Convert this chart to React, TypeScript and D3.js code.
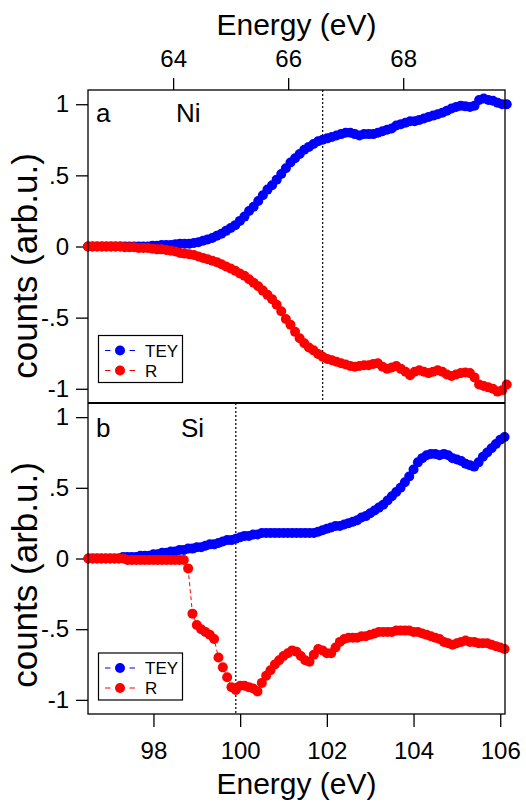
import { useEffect, useRef } from "react";
import * as d3 from "d3";

// Ni M-edge (top panel): energy grid start/step, values per point
const NI_E0 = 62.52;
const NI_STEP = 0.08;
const niTEY = [
  0, 0, 0, 0, 0, 0, 0, 0, 0, 0,
  0, 0, 0, 0, 0.005, 0.005, 0.01, 0.01, 0.01, 0.015,
  0.02, 0.02, 0.02, 0.025, 0.03, 0.04, 0.05, 0.06, 0.075, 0.09,
  0.11, 0.13, 0.15, 0.18, 0.21, 0.25, 0.28, 0.32, 0.36, 0.4,
  0.43, 0.47, 0.51, 0.55, 0.59, 0.62, 0.65, 0.68, 0.7, 0.72,
  0.74, 0.75, 0.76, 0.77, 0.78, 0.79, 0.8, 0.8, 0.79, 0.78,
  0.79, 0.79, 0.79, 0.8, 0.81, 0.82, 0.83, 0.85, 0.86, 0.87,
  0.88, 0.88, 0.89, 0.9, 0.91, 0.92, 0.93, 0.94, 0.955, 0.97,
  0.98, 0.99, 0.985, 0.98, 0.99, 1.03, 1.04, 1.03, 1.025, 1.01,
  1.0, 1.0,
];
const niR = [
  0, 0, 0, 0, 0, 0, 0, 0, -0.005, -0.005,
  -0.005, -0.01, -0.01, -0.01, -0.015, -0.02, -0.02, -0.025, -0.03, -0.035,
  -0.045, -0.05, -0.055, -0.06, -0.07, -0.08, -0.09, -0.1, -0.11, -0.125,
  -0.14, -0.155, -0.17, -0.19, -0.205, -0.23, -0.255, -0.28, -0.31, -0.34,
  -0.37, -0.41, -0.455, -0.51, -0.55, -0.6, -0.645, -0.68, -0.71, -0.73,
  -0.755, -0.775, -0.79, -0.8, -0.81, -0.82, -0.83, -0.84, -0.845, -0.84,
  -0.835, -0.835, -0.825, -0.82, -0.845, -0.86, -0.85, -0.84, -0.86, -0.88,
  -0.905, -0.88, -0.87, -0.88, -0.89, -0.88, -0.87, -0.88, -0.9, -0.91,
  -0.9, -0.89, -0.885, -0.89, -0.92, -0.97, -0.98, -0.99, -1.0, -1.02,
  -1.01, -0.97,
];

// Si L-edge (bottom panel)
const SI_E0 = 96.5;
const SI_STEP = 0.1;
const siTEY = [
  0, 0, 0, 0, 0, 0, 0, 0, 0.01, 0.01,
  0.01, 0.01, 0.02, 0.02, 0.02, 0.03, 0.03, 0.04, 0.04, 0.05,
  0.05, 0.06, 0.06, 0.07, 0.07, 0.08, 0.08, 0.09, 0.1, 0.1,
  0.11, 0.12, 0.13, 0.13, 0.14, 0.15, 0.16, 0.16, 0.17, 0.17,
  0.18, 0.18, 0.18, 0.18, 0.18, 0.18, 0.18, 0.18, 0.18, 0.18,
  0.18, 0.18, 0.18, 0.19, 0.2, 0.21, 0.22, 0.23, 0.23, 0.24,
  0.25, 0.26, 0.27, 0.29, 0.3, 0.32, 0.34, 0.36, 0.38, 0.41,
  0.44, 0.47, 0.5, 0.54, 0.58, 0.63, 0.68, 0.71, 0.73, 0.74,
  0.74, 0.73, 0.74, 0.73, 0.71, 0.7, 0.69, 0.67, 0.66, 0.65,
  0.68, 0.72, 0.75, 0.78, 0.81, 0.84, 0.86,
];
const siR = [
  0, 0, 0, 0, 0, 0, 0, 0, 0, -0.01,
  -0.01, -0.01, -0.01, -0.01, -0.01, -0.01, -0.01, -0.01, -0.01, -0.01,
  -0.01, -0.01, -0.01, -0.07, -0.39, -0.47, -0.5, -0.52, -0.54, -0.57,
  -0.7, -0.77, -0.84, -0.91, -0.93, -0.9, -0.9, -0.91, -0.92, -0.94,
  -0.88, -0.83, -0.79, -0.75, -0.72, -0.69, -0.67, -0.65, -0.66, -0.69,
  -0.72, -0.73, -0.68, -0.64, -0.65, -0.67, -0.67, -0.63, -0.59, -0.57,
  -0.56, -0.56, -0.56, -0.55, -0.55, -0.54, -0.53, -0.52, -0.52, -0.52,
  -0.52, -0.51, -0.51, -0.51, -0.51, -0.52, -0.52, -0.53, -0.54, -0.55,
  -0.56, -0.57, -0.59, -0.6, -0.61, -0.6, -0.59, -0.58, -0.59, -0.59,
  -0.6, -0.6, -0.6, -0.61, -0.62, -0.63, -0.64,
];

const yTicks = [-1, -0.5, 0, 0.5, 1];
const yTickLabels = ["-1", "-.5", "0", ".5", "1"];
const topTicks = [64, 66, 68];
const bottomTicks = [98, 100, 102, 104, 106];
const niEdge = 66.6;
const siEdge = 99.9;

const FONT = "'Liberation Sans', Arial, sans-serif";
const BLUE = "#0000ff";
const RED = "#ff0000";

export default function App() {
  const ref = useRef(null);

  useEffect(() => {
    const svg = d3.select(ref.current);
    svg.selectAll("*").remove();

    const left = 88, right = 505;
    const topA = 90, mid = 403, botB = 714;

    const xTop = d3.scaleLinear().domain([62.52, 69.77]).range([left, right]);
    const xBot = d3.scaleLinear().domain([96.49, 106.11]).range([left, right]);
    const yA = d3.scaleLinear().domain([-1.1, 1.1]).range([mid, topA]);
    const yB = d3.scaleLinear().domain([-1.1, 1.1]).range([botB, mid]);

    const fmt = (d) => yTickLabels[yTicks.indexOf(d)];

    const styleAxis = (g) => {
      g.select(".domain").remove();
      g.selectAll("line").attr("stroke", "#000").attr("stroke-width", 1.3);
      g.selectAll("text").attr("fill", "#000");
      g.attr("font-family", FONT).attr("font-size", 24);
    };

    // y axes
    svg.append("g").attr("transform", `translate(${left},0)`)
      .call(d3.axisLeft(yA).tickValues(yTicks).tickFormat(fmt).tickSize(12).tickPadding(7))
      .call(styleAxis);
    svg.append("g").attr("transform", `translate(${left},0)`)
      .call(d3.axisLeft(yB).tickValues(yTicks).tickFormat(fmt).tickSize(12).tickPadding(7))
      .call(styleAxis);

    // x axes
    svg.append("g").attr("transform", `translate(0,${topA})`)
      .call(d3.axisTop(xTop).tickValues(topTicks).tickFormat(d3.format("d")).tickSize(12).tickPadding(11))
      .call(styleAxis);
    svg.append("g").attr("transform", `translate(0,${botB})`)
      .call(d3.axisBottom(xBot).tickValues(bottomTicks).tickFormat(d3.format("d")).tickSize(13).tickPadding(15))
      .call(styleAxis);

    // axis titles
    svg.append("text").attr("x", (left + right) / 2).attr("y", 35)
      .attr("text-anchor", "middle").attr("font-family", FONT).attr("font-size", 30)
      .text("Energy (eV)");
    svg.append("text").attr("x", (left + right) / 2).attr("y", 794)
      .attr("text-anchor", "middle").attr("font-family", FONT).attr("font-size", 30)
      .text("Energy (eV)");
    [266, 575].forEach((cy) => {
      svg.append("text")
        .attr("transform", `translate(37,${cy}) rotate(-90)`)
        .attr("text-anchor", "middle").attr("font-family", FONT).attr("font-size", 35)
        .text("counts (arb.u.)");
    });

    // edge markers (dotted)
    svg.append("line").attr("x1", xTop(niEdge)).attr("x2", xTop(niEdge))
      .attr("y1", topA).attr("y2", mid)
      .attr("stroke", "#000").attr("stroke-width", 1.2).attr("stroke-dasharray", "2,2");
    svg.append("line").attr("x1", xBot(siEdge)).attr("x2", xBot(siEdge))
      .attr("y1", mid).attr("y2", botB)
      .attr("stroke", "#000").attr("stroke-width", 1.2).attr("stroke-dasharray", "2,2");

    const drawSeries = (values, e0, step, x, y, color) => {
      const pts = values.map((v, i) => [e0 + step * i, v]);
      const line = d3.line().x((d) => x(d[0])).y((d) => y(d[1]));
      const g = svg.append("g");
      g.append("path").attr("d", line(pts)).attr("fill", "none")
        .attr("stroke", color).attr("stroke-width", 1).attr("stroke-dasharray", "4,3");
      g.selectAll("circle").data(pts).enter().append("circle")
        .attr("cx", (d) => x(d[0])).attr("cy", (d) => y(d[1]))
        .attr("r", 5).attr("fill", color);
    };

    drawSeries(niTEY, NI_E0, NI_STEP, xTop, yA, BLUE);
    drawSeries(niR, NI_E0, NI_STEP, xTop, yA, RED);
    drawSeries(siTEY, SI_E0, SI_STEP, xBot, yB, BLUE);
    drawSeries(siR, SI_E0, SI_STEP, xBot, yB, RED);

    // frames
    svg.append("rect").attr("x", left).attr("y", topA).attr("width", right - left)
      .attr("height", botB - topA).attr("fill", "none").attr("stroke", "#000").attr("stroke-width", 1.3);
    svg.append("line").attr("x1", left).attr("x2", right).attr("y1", mid).attr("y2", mid)
      .attr("stroke", "#000").attr("stroke-width", 2.2);

    // panel labels
    const label = (x, y, t) => svg.append("text").attr("x", x).attr("y", y)
      .attr("font-family", FONT).attr("font-size", 26).text(t);
    label(96, 122, "a");
    label(176, 122, "Ni");
    label(96, 437, "b");
    label(181, 437, "Si");

    // legends
    const legend = (y0) => {
      const g = svg.append("g");
      g.append("rect").attr("x", 98.5).attr("y", y0).attr("width", 84).attr("height", 47)
        .attr("fill", "#fff").attr("stroke", "#000").attr("stroke-width", 1.2);
      [["TEY", BLUE], ["R", RED]].forEach(([name, color], i) => {
        const cy = y0 + 15 + i * 20;
        g.append("line").attr("x1", 105).attr("x2", 135).attr("y1", cy).attr("y2", cy)
          .attr("stroke", color).attr("stroke-width", 1).attr("stroke-dasharray", "5.5,19");
        g.append("circle").attr("cx", 120).attr("cy", cy).attr("r", 5).attr("fill", color);
        g.append("text").attr("x", 145).attr("y", cy + 6)
          .attr("font-family", FONT).attr("font-size", 17).text(name);
      });
    };
    legend(335.5);
    legend(653);
  }, []);

  return (
    <svg ref={ref} width={526} height={802}
      style={{ position: "absolute", left: 0, top: 0, background: "#fff" }} />
  );
}
